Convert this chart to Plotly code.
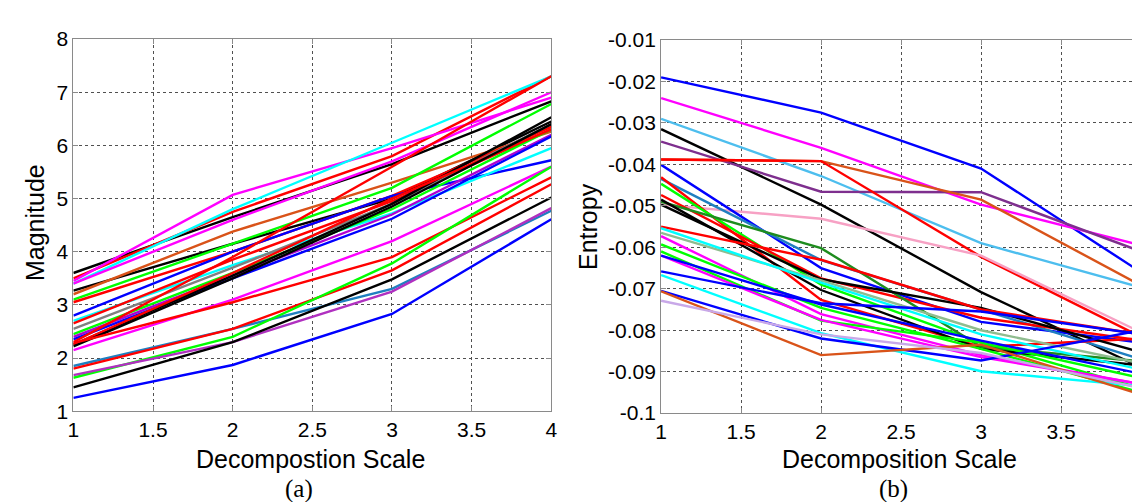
import plotly.graph_objects as go

# ---------------- data ----------------
scales = [1, 2, 3, 4]
x_ticks = [1, 1.5, 2, 2.5, 3, 3.5, 4]
x_tick_text = ["1", "1.5", "2", "2.5", "3", "3.5", "4"]
mag_ticks = [1, 2, 3, 4, 5, 6, 7, 8]
ent_ticks = [-0.1, -0.09, -0.08, -0.07, -0.06, -0.05, -0.04, -0.03, -0.02, -0.01]
ent_tick_text = ["-0.1", "-0.09", "-0.08", "-0.07", "-0.06", "-0.05", "-0.04", "-0.03", "-0.02", "-0.01"]

# (a) Magnitude per decomposition scale
magnitude_series = [
    [3.60, 4.65, 5.65, 6.83],
    [3.50, 4.75, 5.80, 7.30],
    [3.45, 5.07, 5.95, 6.90],
    [3.40, 4.80, 6.05, 7.30],
    [3.40, 4.60, 5.70, 7.00],
    [3.27, 4.15, 5.00, 6.45],
    [3.20, 4.38, 5.30, 6.26],
    [3.10, 4.15, 5.20, 6.78],
    [3.05, 4.00, 5.05, 6.35],
    [2.80, 4.00, 5.05, 5.72],
    [2.70, 3.75, 4.72, 5.95],
    [2.65, 3.85, 4.95, 6.30],
    [2.55, 3.70, 4.90, 6.40],
    [2.45, 3.60, 4.80, 6.30],
    [2.40, 3.55, 4.70, 6.20],
    [2.35, 3.50, 4.62, 6.17],
    [2.30, 3.90, 5.60, 7.30],
    [2.25, 3.55, 4.90, 6.53],
    [2.25, 3.60, 5.00, 6.30],
    [2.22, 3.50, 4.85, 6.40],
    [2.15, 3.10, 4.20, 5.60],
    [2.28, 3.05, 3.90, 5.40],
    [1.85, 2.55, 3.30, 4.77],
    [1.80, 2.55, 3.65, 5.27],
    [1.63, 2.40, 3.78, 5.60],
    [1.68, 2.30, 3.25, 4.82],
    [1.45, 2.30, 3.48, 5.02],
    [1.25, 1.87, 2.83, 4.61],
]
magnitude_colors = [
    "#000000", "#FF0000", "#FF00FF", "#00FFFF", "#FF00FF", "#000000", "#D95319",
    "#00FF00", "#FF0000", "#0000FF", "#00FFFF", "#FF0000", "#808080", "#00FF00",
    "#B000D0", "#0000FF", "#FF0000", "#000000", "#FF0000", "#000000", "#FF00FF",
    "#FF0000", "#1F7FC0", "#FF0000", "#00FF00", "#B030C0", "#000000", "#0000FF",
]

# (b) Entropy per decomposition scale
entropy_series = [
    [-0.0190, -0.0275, -0.0410, -0.0660],
    [-0.0240, -0.0360, -0.0497, -0.0595],
    [-0.0290, -0.0428, -0.0590, -0.0697],
    [-0.0315, -0.0497, -0.0708, -0.0890],
    [-0.0345, -0.0466, -0.0467, -0.0610],
    [-0.0388, -0.0392, -0.0485, -0.0692],
    [-0.0388, -0.0392, -0.0623, -0.0816],
    [-0.0497, -0.0531, -0.0620, -0.0805],
    [-0.0401, -0.0650, -0.0780, -0.0830],
    [-0.0435, -0.0631, -0.0750, -0.0870],
    [-0.0431, -0.0727, -0.0840, -0.0820],
    [-0.0447, -0.0690, -0.0830, -0.0940],
    [-0.0474, -0.0675, -0.0770, -0.0825],
    [-0.0490, -0.0602, -0.0840, -0.0875],
    [-0.0497, -0.0677, -0.0746, -0.0853],
    [-0.0485, -0.0703, -0.0845, -0.0885],
    [-0.0550, -0.0630, -0.0750, -0.0810],
    [-0.0565, -0.0680, -0.0800, -0.0880],
    [-0.0554, -0.0685, -0.0810, -0.0895],
    [-0.0573, -0.0761, -0.0860, -0.0930],
    [-0.0593, -0.0746, -0.0845, -0.0950],
    [-0.0610, -0.0777, -0.0830, -0.0915],
    [-0.0620, -0.0775, -0.0865, -0.0930],
    [-0.0620, -0.0738, -0.0825, -0.0905],
    [-0.0658, -0.0735, -0.0755, -0.0810],
    [-0.0667, -0.0807, -0.0899, -0.0935],
    [-0.0705, -0.0820, -0.0873, -0.0800],
    [-0.0706, -0.0860, -0.0835, -0.0955],
    [-0.0729, -0.0810, -0.0855, -0.0940],
]
entropy_colors = [
    "#0000FF", "#FF00FF", "#4DBEEE", "#000000", "#7E2F8E", "#D95319", "#FF0000",
    "#F7A1C4", "#0000FF", "#1F7FC0", "#FF0000", "#00FF00", "#FF0000", "#1E8C1E",
    "#000000", "#000000", "#FF0000", "#8FBC8F", "#00FFFF", "#FF00FF", "#00FF00",
    "#00FF00", "#FF00FF", "#0000FF", "#0000FF", "#00FFFF", "#0000FF", "#D95319",
    "#C8A8E8",
]

# ---------------- figure ----------------
W, H = 1140, 502
fig = go.Figure()

for vals, col in zip(magnitude_series, magnitude_colors):
    fig.add_trace(go.Scatter(x=scales, y=vals, mode="lines",
                             line=dict(color=col, width=2.4),
                             xaxis="x", yaxis="y", showlegend=False, hoverinfo="skip"))
for vals, col in zip(entropy_series, entropy_colors):
    fig.add_trace(go.Scatter(x=scales, y=vals, mode="lines",
                             line=dict(color=col, width=2.4),
                             xaxis="x2", yaxis="y2", showlegend=False, hoverinfo="skip"))

font_main = "Arial, Liberation Sans, sans-serif"
axis_common = dict(
    showline=True, linecolor="#8a8a8a", linewidth=1, mirror="ticks",
    ticks="inside", ticklen=5, tickcolor="#8a8a8a",
    showgrid=True, gridcolor="#505050", griddash="dot", gridwidth=1,
    zeroline=False, tickfont=dict(family=font_main, size=21, color="#000000"),
)

def px_x(p):
    return p / W

def px_y(p):
    return 1 - p / H

fig.update_layout(
    width=W, height=H,
    margin=dict(l=0, r=0, t=0, b=0),
    paper_bgcolor="white", plot_bgcolor="white",
    xaxis=dict(domain=[px_x(60), px_x(543)], range=[1, 4], anchor="y",
               tickvals=x_ticks, ticktext=x_tick_text, ticklabelstandoff=0, **axis_common),
    yaxis=dict(domain=[px_y(410), px_y(20)], range=[1, 8], anchor="x",
               tickvals=mag_ticks, ticklabelstandoff=0, **axis_common),
    xaxis2=dict(domain=[px_x(654), px_x(1139)], range=[1, 4], anchor="y2",
                tickvals=x_ticks, ticktext=x_tick_text, ticklabelstandoff=0, **axis_common),
    yaxis2=dict(domain=[px_y(412), px_y(21)], range=[-0.1, -0.01], anchor="x2",
                tickvals=ent_ticks, ticktext=ent_tick_text, ticklabelstandoff=0, **axis_common),
)

title_font = dict(family=font_main, size=25, color="#000000")
serif_font = dict(family="Times New Roman, Liberation Serif, serif", size=25, color="#000000")
annos = [
    dict(text="Magnitude", x=px_x(22), y=px_y(212), textangle=-90, font=title_font),
    dict(text="Decompostion Scale", x=px_x(300), y=px_y(460), font=title_font),
    dict(text="(a)", x=px_x(288), y=px_y(491), font=serif_font),
    dict(text="Entropy", x=px_x(580), y=px_y(216), textangle=-90, font=title_font),
    dict(text="Decomposition Scale", x=px_x(895), y=px_y(460), font=title_font),
    dict(text="(b)", x=px_x(889), y=px_y(491), font=serif_font),
]
for a in annos:
    fig.add_annotation(xref="paper", yref="paper", showarrow=False,
                       xanchor="center", yanchor="middle", **a)

fig.write_html("out.html")
